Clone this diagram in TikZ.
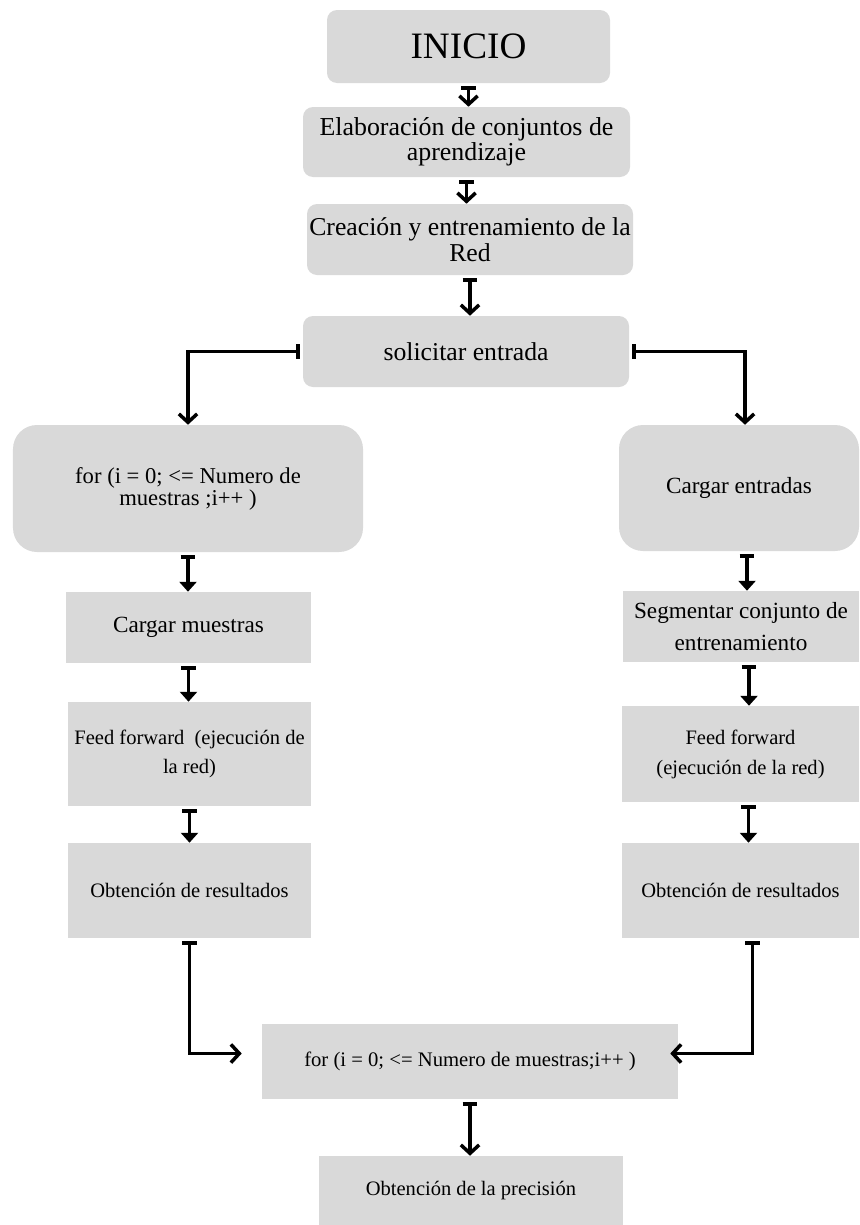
\documentclass[tikz,border=0pt]{standalone}
\usepackage{fontspec}
\setmainfont{Liberation Serif}
\usepackage{tikz}
\usetikzlibrary{arrows.meta}
\definecolor{boxgray}{HTML}{D9D9D9}

\begin{document}
\begin{tikzpicture}
	\tikzstyle{roundbox} = [rectangle, rounded corners=0.25cm, inner sep=0pt, align=center, fill=boxgray]
	\tikzstyle{bigbox} = [rectangle, rounded corners=0.6cm, inner sep=0pt, align=center, fill=boxgray]
	\tikzstyle{process} = [rectangle, inner sep=0pt, align=center, fill=boxgray]
	\tikzstyle{arrow} = [line width=2.5pt, shorten <=0.08cm, {Bar[width=10.5pt]}-{Straight Barb[length=6pt,width=13pt]}]
	\tikzstyle{arrowtri} = [line width=2.5pt, shorten <=0.08cm, {Bar[width=10.5pt]}-{Triangle[length=7pt,width=12pt]}]
	\useasboundingbox (0,0) rectangle (21.475,-30.625);
	% centre column
	\node (inicio) [roundbox, minimum width=7.075cm, minimum height=1.825cm, font=\fontsize{26.5}{26}\selectfont] at (11.7125,-1.1625) {INICIO};
	\node (elaboracion) [roundbox, minimum width=8.175cm, minimum height=1.75cm, font=\fontsize{18.4}{17.8}\selectfont] at (11.6625,-3.55) {Elaboración de conjuntos de\\aprendizaje};
	\node (creacion) [roundbox, minimum width=8.15cm, minimum height=1.775cm, font=\fontsize{18.3}{18.3}\selectfont] at (11.75,-5.9875) {Creación y entrenamiento de la\\Red};
	\node (solicitar) [roundbox, minimum width=8.15cm, minimum height=1.775cm, font=\fontsize{18.3}{18.3}\selectfont] at (11.65,-8.7875) {solicitar entrada};
	% left branch
	\node (forMuestras) [bigbox, minimum width=8.75cm, minimum height=3.175cm, font=\fontsize{16.1}{14.4}\selectfont] at (4.7,-12.2125) {for (i = 0; <= Numero de\\muestras ;i++ )};
	\node (cargarMuestras) [process, minimum width=6.125cm, minimum height=1.775cm, font=\fontsize{16.5}{18}\selectfont] at (4.7125,-15.6875) {Cargar muestras};
	\node (feedLeft) [process, minimum width=6.075cm, minimum height=2.6cm, font=\fontsize{14.6}{20.6}\selectfont] at (4.7375,-18.85) {Feed forward\ \ (ejecución de\\la red)};
	\node (resultLeft) [process, minimum width=6.075cm, minimum height=2.375cm, font=\fontsize{14.6}{18}\selectfont] at (4.7375,-22.2625) {Obtención de resultados};
	% right branch
	\node (cargarEntradas) [bigbox, minimum width=6.0cm, minimum height=3.15cm, font=\fontsize{16.5}{18}\selectfont] at (18.475,-12.2) {Cargar entradas};
	\node (segmentar) [process, minimum width=5.9cm, minimum height=1.775cm, font=\fontsize{16.5}{23}\selectfont] at (18.525,-15.6625) {Segmentar conjunto de\\entrenamiento};
	\node (feedRight) [process, minimum width=5.925cm, minimum height=2.4cm, font=\fontsize{14.6}{21.3}\selectfont] at (18.5125,-18.85) {Feed forward\\(ejecución de la red)};
	\node (resultRight) [process, minimum width=5.925cm, minimum height=2.375cm, font=\fontsize{14.6}{18}\selectfont] at (18.5125,-22.2625) {Obtención de resultados};
	% bottom
	\node (forFinal) [process, minimum width=10.4cm, minimum height=1.875cm, font=\fontsize{14.7}{18}\selectfont] at (11.75,-26.5375) {for (i = 0; <= Numero de muestras;i++ )};
	\node (precision) [process, minimum width=7.6cm, minimum height=1.725cm, font=\fontsize{14.6}{18}\selectfont] at (11.775,-29.7625) {Obtención de la precisión};
	% connectors
	\draw [arrow] (inicio.south) -- (inicio.south |- elaboracion.north);
	\draw [arrow] (elaboracion.south) -- (elaboracion.south |- creacion.north);
	\draw [arrow] (creacion.south) -- (creacion.south |- solicitar.north);
	\draw [arrow] (solicitar.west) -| (forMuestras.north);
	\draw [arrow] (solicitar.east) -| ([xshift=0.15cm]cargarEntradas.north);
	\draw [arrowtri] (forMuestras.south) -- (forMuestras.south |- cargarMuestras.north);
	\draw [arrowtri] (cargarMuestras.south) -- (cargarMuestras.south |- feedLeft.north);
	\draw [arrowtri] (feedLeft.south) -- (feedLeft.south |- resultLeft.north);
	\draw [arrowtri] ([xshift=0.2cm]cargarEntradas.south) -- ([xshift=0.2cm]cargarEntradas.south |- segmentar.north);
	\draw [arrowtri] ([xshift=0.2cm]segmentar.south) -- ([xshift=0.2cm]segmentar.south |- feedRight.north);
	\draw [arrowtri] ([xshift=0.2cm]feedRight.south) -- ([xshift=0.2cm]feedRight.south |- resultRight.north);
	\draw [arrow, shorten >=0.5cm] (resultLeft.south) |- ([yshift=0.2cm]forFinal.west);
	\draw [arrow] ([xshift=0.3cm]resultRight.south) |- ([xshift=-0.2cm,yshift=0.2cm]forFinal.east);
	\draw [arrow] (forFinal.south) -- (forFinal.south |- precision.north);
\end{tikzpicture}
\end{document}
